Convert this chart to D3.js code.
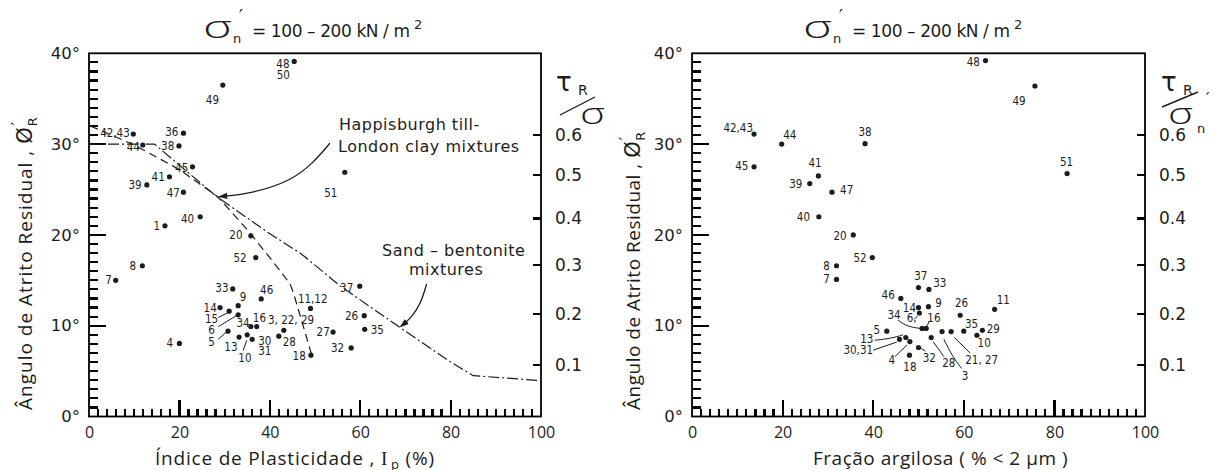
<!DOCTYPE html>
<html>
<head>
<meta charset="utf-8">
<script src="https://cdn.jsdelivr.net/npm/d3@7"></script>
<style>
  body { margin: 0; background: #fff; }
  svg { display: block; }
</style>
</head>
<body>
<div id="chart"></div>
<script>
// ---------- left panel: plasticity index Ip (%) vs residual angle (deg) ----------
const ipDots = [
  [45.4,39.1],[29.6,36.5],[9.8,31.1],[20.9,31.2],[11.9,29.9],[19.9,29.8],[22.9,27.5],
  [17.8,26.4],[12.8,25.5],[20.9,24.7],[24.6,22.0],[16.8,21.0],[35.8,19.9],[56.6,26.9],
  [36.9,17.5],[11.8,16.6],[5.9,15.0],[31.8,14.05],[38.1,12.95],[33.0,12.2],[29.0,12.0],
  [31.0,11.6],[33.0,11.2],[35.8,9.9],[37.1,9.9],[30.75,9.4],[33.2,8.75],[35.0,9.0],
  [36.1,8.5],[43.1,9.5],[42.0,8.85],[49.0,11.9],[49.1,6.75],[20.0,8.05],[59.9,14.35],
  [60.9,11.1],[61.0,9.6],[54.0,9.3],[58.0,7.55]
];
const ipLabels = [
  ["48",42.9,38.8],["50",43.0,37.6],["49",27.3,34.9],["42,43",5.75,31.2],["36",18.3,31.3],
  ["44",9.8,29.7],["38",17.4,29.8],["45",20.5,27.35],["41",15.3,26.4],["39",10.2,25.5],
  ["47",18.65,24.6],["40",21.8,21.8],["1",15.0,21.0],["20",32.5,20.0],["51",53.5,24.6],
  ["52",33.4,17.5],["8",9.7,16.6],["7",4.3,15.0],["33",29.4,14.1],["46",39.3,13.9],
  ["9",34.1,13.2],["14",26.8,12.0],["15",27.1,10.7],["6",27.1,9.5],["5",27.1,8.2],
  ["34",34.1,10.3],["16",37.7,10.8],["13",31.4,7.6],["10",34.5,6.4],["30",38.9,8.35],
  ["31",38.9,7.25],["3, 22, 29",44.7,10.6],["28",44.3,8.25],["11,12",49.5,12.95],
  ["27",51.8,9.35],["18",46.5,6.65],["32",55.0,7.5],["4",17.9,8.1],["37",57.0,14.2],
  ["26",58.1,11.1],["35",63.8,9.5]
];
const ipLeaders = [
  [[28.6,10.9],[30.6,11.4]],
  [[28.6,9.9],[32.6,11.1]],
  [[28.6,8.5],[30.4,9.3]],
  [[34.1,7.25],[34.9,8.4]]
];
// Happisburgh till - London clay mixtures (dashed)
const tillCurve = [[0.3,32],[10,29.9],[20,27.2],[28.5,24.2],[35.3,20.4],[40,17.5],
  [44.5,14.6],[45.3,13.5],[49.2,6.9]];
// Sand - bentonite mixtures (dash-dot)
const sandCurve = [[0,30],[14.5,30],[28.3,24.2],[39.5,20.3],[47,17.9],[55.5,14.4],
  [68.8,9.8],[80,6.0],[85,4.5],[100,3.95]];
const tillArrow = [[53.3,30.1],[49.6,27.9],[44.5,25.9],[36.3,24.6],[28.8,24.2]];
const sandArrow = [[74.7,14.6],[73.4,12.4],[71.2,10.8],[68.9,9.9]];

// ---------- right panel: clay fraction (% < 2 um) vs residual angle (deg) ----------
const cfDots = [
  [13.7,31.1],[19.8,30.0],[38.2,30.05],[13.7,27.5],[27.9,26.5],[26.0,25.65],[30.9,24.7],
  [28.0,22.0],[35.6,20.0],[64.8,39.2],[75.7,36.4],[82.8,26.75],[39.8,17.5],[31.9,16.6],
  [31.9,15.1],[50.0,14.2],[52.3,14.0],[46.1,13.0],[50.0,12.0],[52.2,12.1],[50.2,11.4],
  [59.2,11.15],[66.8,11.8],[50.8,9.7],[51.7,9.7],[43.0,9.4],[60.0,9.4],[64.1,9.5],
  [62.9,8.95],[57.2,9.35],[55.2,9.35],[52.8,8.7],[47.2,8.7],[45.8,8.5],[48.1,8.25],
  [50.0,7.6],[48.0,6.75]
];
const cfLabels = [
  ["42,43",10.2,31.75],["44",21.6,31.0],["38",38.2,31.3],["45",11.0,27.6],["41",27.15,27.9],
  ["39",22.9,25.6],["47",34.15,24.95],["40",24.6,22.0],["20",32.7,19.9],["48",62.1,39.0],
  ["49",72.2,34.8],["51",82.7,28.0],["52",37.1,17.5],["8",29.7,16.6],["7",29.7,15.1],
  ["37",50.5,15.5],["33",54.7,14.7],["46",43.3,13.4],["14",48.0,11.9],["9",54.4,12.5],
  ["6,",48.5,10.8],["16",53.4,10.8],["34",44.6,11.2],["26",59.5,12.5],["11",68.7,12.8],
  ["35",61.7,10.2],["29",66.5,9.6],["10",64.5,8.1],["5",40.8,9.5],["13",38.6,8.5],
  ["30,31",36.7,7.3],["4",44.1,6.2],["32",52.4,6.4],["18",48.1,5.5],["28",56.7,5.9],
  ["3",60.3,4.5],["21, 27",63.95,6.2]
];
const cfLeaders = [
  [[45.5,10.6],[47.5,9.9],[50.4,9.7]],
  [[40.4,8.4],[44,8.6],[46.6,9.0]],
  [[40.0,7.3],[45.2,8.2]],
  [[44.8,6.6],[47.5,7.9]],
  [[51.5,7.2],[50.6,7.5]],
  [[55.6,6.6],[53.3,8.2]],
  [[59.5,5.3],[57.5,6.6],[55.6,8.5]],
  [[61.4,7.0],[57.9,8.7]],
  [[49.1,10.7],[49.8,11.1]],
  [[52.4,10.5],[51.9,10.0]]
];

// ---------- ticks ----------
const degTicks = [0,10,20,30,40];
const ratioTicks = [0.1,0.2,0.3,0.4,0.5,0.6];
const xTicks = [0,20,40,60,80,100];

const W = 1217, H = 470;
const ink = "#1c1c1c";
const scanFont = "'DejaVu Sans', sans-serif";
const numFont = "'Liberation Sans Narrow', 'DejaVu Sans Condensed', 'Liberation Sans', sans-serif";
const labelFont = "'Open Sans', sans-serif";

const svg = d3.select("#chart").append("svg")
    .attr("width", W)
    .attr("height", H);

const defs = svg.append("defs");
defs.append("marker")
    .attr("id", "arr")
    .attr("viewBox", "0 0 10 10")
    .attr("refX", 9).attr("refY", 5)
    .attr("markerWidth", 7).attr("markerHeight", 7)
    .attr("orient", "auto")
  .append("path")
    .attr("d", "M0,1.5 L10,5 L0,8.5 Z")
    .attr("fill", ink);
defs.append("clipPath").attr("id", "clipL")
  .append("rect").attr("x", 0).attr("y", 0).attr("width", 610).attr("height", H);

// axes give the labels; tick marks are drawn from the same scales
function styleAxis(sel, fontSize, family) {
    sel.select(".domain").remove();
    sel.selectAll(".tick line").remove();
    sel.selectAll("text")
        .attr("fill", ink)
        .style("font-family", family)
        .style("font-size", fontSize + "px");
}

function drawPanel(cfg) {
    const x = d3.scaleLinear().domain([0, 100]).range(cfg.xRange);
    const y = d3.scaleLinear().domain([0, 40]).range([416.5, 53.3]);
    const g = svg.append("g");
    if (cfg.clip) g.attr("clip-path", "url(#clipL)");

    // frame
    g.append("rect")
        .attr("x", x(0)).attr("y", y(40))
        .attr("width", x(100) - x(0)).attr("height", y(0) - y(40))
        .attr("fill", "none").attr("stroke", "#000").attr("stroke-width", 1.8);

    const ratioDeg = ratioTicks.map(v => Math.atan(v) * 180 / Math.PI);

    // horizontal tick marks: degrees (minor 1, long every 10) and tau/sigma on the right
    const ph = d3.path();
    d3.range(1, 40, 1).forEach(d => {
        ph.moveTo(x(0), y(d));
        ph.lineTo(x(0) + (d % 10 === 0 ? 17 : 9), y(d));
    });
    ratioDeg.forEach(d => {
        ph.moveTo(x(100), y(d));
        ph.lineTo(x(100) - 8, y(d));
    });
    g.append("path")
        .attr("d", ph.toString())
        .attr("fill", "none")
        .attr("stroke", "#000")
        .attr("stroke-width", 2.2)
        .style("shape-rendering", "crispEdges");

    // vertical tick marks: Ip / clay fraction (minor 2, long every 20)
    const pv = d3.path();
    d3.range(2, 100, 2).forEach(d => {
        pv.moveTo(x(d), y(0));
        pv.lineTo(x(d), y(0) - (d % 20 === 0 ? 17 : 8));
    });
    g.append("path")
        .attr("d", pv.toString())
        .attr("fill", "none")
        .attr("stroke", "#000")
        .attr("stroke-width", 2.2)
        .style("shape-rendering", "crispEdges");

    g.append("g").attr("transform", `translate(${x(0)},0)`)
        .call(d3.axisLeft(y).tickValues(degTicks).tickSize(0).tickPadding(9)
            .tickFormat(d => d + "°"))
        .call(s => styleAxis(s, 16.5, scanFont));
    g.append("g").attr("transform", `translate(0,${y(0)})`)
        .call(d3.axisBottom(x).tickValues(xTicks).tickSize(0).tickPadding(10))
        .call(s => styleAxis(s, 16, labelFont));
    g.append("g").attr("transform", `translate(${x(100)},0)`)
        .call(d3.axisRight(y).tickValues(ratioDeg).tickSize(0).tickPadding(14)
            .tickFormat(d => Math.tan(d * Math.PI / 180).toFixed(1)))
        .call(s => styleAxis(s, 17, scanFont));

    const line = d3.line().x(d => x(d[0])).y(d => y(d[1]));
    const smooth = d3.line().x(d => x(d[0])).y(d => y(d[1])).curve(d3.curveBasis);

    (cfg.curves || []).forEach(c => {
        g.append("path").attr("d", line(c.pts))
            .attr("fill", "none").attr("stroke", ink).attr("stroke-width", 1.2)
            .attr("stroke-dasharray", c.dash);
    });
    (cfg.arrows || []).forEach(a => {
        g.append("path").attr("d", smooth(a))
            .attr("fill", "none").attr("stroke", ink).attr("stroke-width", 1.3)
            .attr("marker-end", "url(#arr)");
    });
    g.selectAll(".leader").data(cfg.leaders).join("path")
        .attr("class", "leader")
        .attr("d", d => (d.length > 2 ? smooth : line)(d))
        .attr("fill", "none").attr("stroke", ink).attr("stroke-width", 1);

    g.selectAll(".dot").data(cfg.dots).join("circle")
        .attr("class", "dot")
        .attr("cx", d => x(d[0])).attr("cy", d => y(d[1]))
        .attr("r", 2.6).attr("fill", ink);

    g.selectAll(".plabel").data(cfg.labels).join("text")
        .attr("class", "plabel")
        .attr("x", d => x(d[1])).attr("y", d => y(d[2]))
        .attr("text-anchor", "middle").attr("dominant-baseline", "central")
        .style("font-family", numFont).style("font-size", "11.5px")
        .attr("fill", ink)
        .text(d => d[0]);

    // title  sigma'n = 100 - 200 kN / m2
    const tx = cfg.titleX;
    const t = g.append("g").attr("fill", ink).style("font-family", scanFont);
    t.append("text").attr("x", tx).attr("y", 38).style("font-family", labelFont)
        .style("font-size", "31px").style("font-weight", 300)
        .attr("textLength", 29).attr("lengthAdjust", "spacingAndGlyphs").text("σ");
    t.append("text").attr("x", tx + 36).attr("y", 22).style("font-size", "17px").text("′");
    t.append("text").attr("x", tx + 30).attr("y", 43).style("font-size", "13px").text("n");
    t.append("text").attr("x", tx + 49).attr("y", 37).style("font-size", "17px")
        .attr("textLength", 158).text("= 100 – 200 kN / m");
    t.append("text").attr("x", tx + 211).attr("y", 29).style("font-size", "13px").text("2");

    // right axis title  tau_R / sigma'_n
    const rx = x(100), rt = cfg.rTitle;
    const r = g.append("g").attr("fill", ink).style("font-family", scanFont);
    r.append("text").attr("x", rx + rt.tau).attr("y", 91).style("font-size", "26px").text("τ");
    r.append("text").attr("x", rx + rt.tau + 22).attr("y", 95).style("font-size", "14px").text("R");
    r.append("path")
        .attr("d", `M${rx + rt.slash[0]},${rt.slash[1]}L${rx + rt.slash[2]},${rt.slash[3]}`)
        .attr("stroke", ink).attr("stroke-width", 1.4);
    r.append("text").attr("x", rx + rt.sig).attr("y", 124).style("font-family", labelFont)
        .style("font-size", "29px").style("font-weight", 300)
        .attr("textLength", 25).attr("lengthAdjust", "spacingAndGlyphs").text("σ");
    r.append("text").attr("x", rx + rt.sig + 29).attr("y", 133).style("font-size", "13px").text("n");
    r.append("text").attr("x", rx + rt.sig + 38).attr("y", 104).style("font-size", "16px").text("′");

    // y axis title (rotated)
    const yl = g.append("text")
        .attr("transform", `translate(${cfg.yTitleX},410) rotate(-90)`)
        .attr("fill", ink)
        .style("font-family", labelFont).style("font-size", "19px")
        .style("letter-spacing", cfg.yTitleSpacing + "px");
    yl.append("tspan").text("Ângulo de Atrito Residual , ");
    yl.append("tspan").style("font-family", scanFont).style("font-size", "21px").text("Ø");
    yl.append("tspan").attr("dy", 5).style("font-family", scanFont).style("font-size", "13px").text("R");
    yl.append("tspan").attr("dx", -9).attr("dy", -14).style("font-family", scanFont)
        .style("font-size", "15px").text("′");

    // x axis title
    const xl = g.append("text")
        .attr("x", cfg.xTitleX).attr("y", 465)
        .attr("fill", ink)
        .style("font-family", labelFont).style("font-size", "19px")
        .style("letter-spacing", cfg.xTitleSpacing + "px");
    cfg.xTitle(xl);

    return { g, x, y };
}

// left panel
drawPanel({
    xRange: [89, 541],
    clip: true,
    dots: ipDots,
    labels: ipLabels,
    leaders: ipLeaders,
    curves: [
        { pts: tillCurve, dash: "8,5" },
        { pts: sandCurve, dash: "11,3,2,3" }
    ],
    arrows: [tillArrow, sandArrow],
    titleX: 203,
    rTitle: { tau: 15, sig: 39, slash: [19, 115, 54, 97] },
    yTitleX: 32,
    yTitleSpacing: 1.0,
    xTitleX: 155,
    xTitleSpacing: 0.8,
    xTitle: s => {
        s.append("tspan").text("Índice de Plasticidade ,  ");
        s.append("tspan").style("font-family", "'Liberation Serif', serif").text("I");
        s.append("tspan").attr("dy", 4).attr("dx", 3).style("font-size", "13px").text("p");
        s.append("tspan").attr("dy", -4).text("  (%)");
    }
});

// annotation texts, left panel
const annX = d3.scaleLinear().domain([0, 100]).range([89, 541]);
const annY = d3.scaleLinear().domain([0, 40]).range([416.5, 53.3]);
const ann = svg.append("g").attr("fill", ink)
    .style("font-family", scanFont).style("font-size", "16px").style("letter-spacing", "0.5px");
ann.append("text").attr("x", annX(55.3)).attr("y", annY(31.5)).text("Happisburgh till-");
ann.append("text").attr("x", annX(55.1)).attr("y", annY(29.1)).text("London clay mixtures");
ann.append("text").attr("x", annX(80.7)).attr("y", annY(17.7)).attr("text-anchor", "middle").text("Sand – bentonite");
ann.append("text").attr("x", annX(79.0)).attr("y", annY(15.6)).attr("text-anchor", "middle").text("mixtures");

// right panel
drawPanel({
    xRange: [692, 1145],
    clip: false,
    dots: cfDots,
    labels: cfLabels,
    leaders: cfLeaders,
    curves: [],
    arrows: [],
    titleX: 803,
    rTitle: { tau: 16, sig: 23, slash: [17, 107, 53, 92] },
    yTitleX: 640,
    yTitleSpacing: 0.5,
    xTitleX: 813,
    xTitleSpacing: 0.5,
    xTitle: s => {
        s.append("tspan").text("Fração argilosa  ( % < 2  μm )");
    }
});
</script>
</body>
</html>
